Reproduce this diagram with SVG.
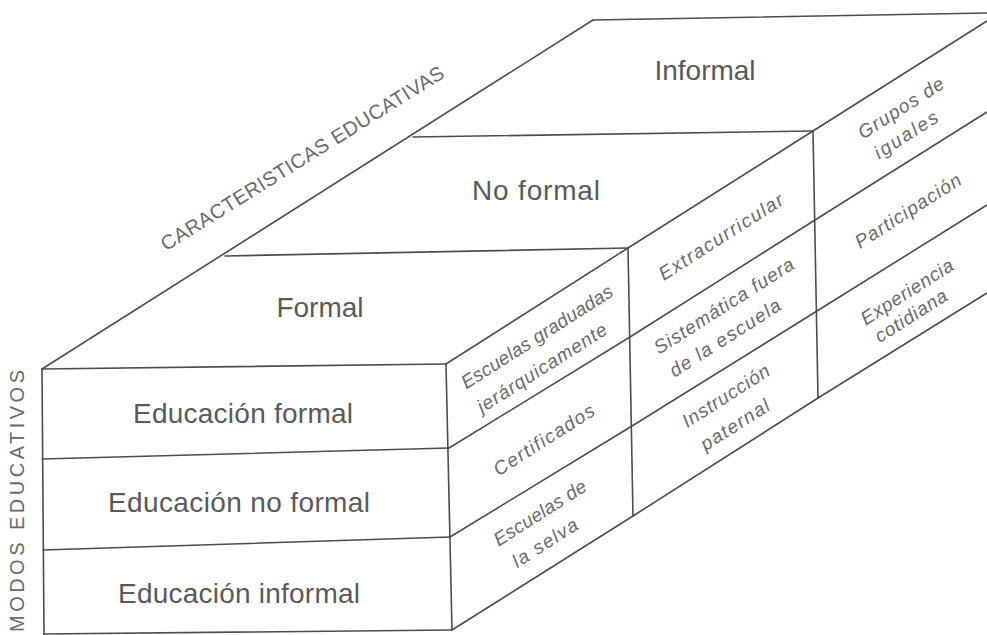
<svg xmlns="http://www.w3.org/2000/svg" width="987" height="635" viewBox="0 0 987 635">
<style>
.ln{fill:none;stroke:#4d4d4d;stroke-width:1.6;stroke-linecap:round;stroke-linejoin:round}
.big{font-family:"Liberation Sans",Arial,sans-serif;font-size:28px;fill:#5a5a5a;text-anchor:middle}
.side{font-family:"Liberation Sans",Arial,sans-serif;font-size:19px;fill:#6a6a6a;text-anchor:middle;font-style:italic}
.axis{font-family:"Liberation Sans",Arial,sans-serif;font-size:20px;fill:#6a6a6a}
</style>
<rect width="987" height="635" fill="#ffffff"/>
<g id="connectors">
<path class="ln" d="M42,369 L593,20"/>
<path class="ln" d="M593,20 L987,13"/>
<path class="ln" d="M413,137 L813,131"/>
<path class="ln" d="M225,256 L628,248"/>
<path class="ln" d="M42,369 L446,364"/>
<path class="ln" d="M42,459 L449,448"/>
<path class="ln" d="M43,550 L450,537"/>
<path class="ln" d="M44,634 L452,630"/>
<path class="ln" d="M42,369 L44,635"/>
<path class="ln" d="M446,364 L452,630"/>
<path class="ln" d="M628,248 L633,516"/>
<path class="ln" d="M813,131 L818,398"/>
<path class="ln" d="M446,364 L628,248 L813,131 L987,21"/>
<path class="ln" d="M449,448 L630,337 L815,220 L987,112"/>
<path class="ln" d="M450,537 L632,426 L817,311 L987,205"/>
<path class="ln" d="M452,630 L633,516 L818,398 L987,293"/>
</g>
<g id="axis-caracteristicas">
<text class="axis" transform="translate(306,164) rotate(-32)" text-anchor="middle" textLength="330" lengthAdjust="spacing">CARACTERISTICAS EDUCATIVAS</text>
</g>
<g id="axis-modos">
<text class="axis" font-size="19" transform="translate(24,632) rotate(-90)" textLength="262" lengthAdjust="spacing">MODOS EDUCATIVOS</text>
</g>
<g id="top-formal"><text class="big" x="320" y="317">Formal</text></g>
<g id="top-no-formal"><text class="big" x="536" y="200" textLength="128" lengthAdjust="spacing">No formal</text></g>
<g id="top-informal"><text class="big" x="705" y="80">Informal</text></g>
<g id="row-educacion-formal"><text class="big" x="243" y="423" textLength="220" lengthAdjust="spacing">Educación formal</text></g>
<g id="row-educacion-no-formal"><text class="big" x="239" y="512" textLength="262" lengthAdjust="spacing">Educación no formal</text></g>
<g id="row-educacion-informal"><text class="big" x="239" y="603" textLength="242" lengthAdjust="spacing">Educación informal</text></g>
<g id="cell-formal-formal">
<text class="side" transform="translate(537,337) rotate(-32.5)" dy="0.33em" textLength="176" lengthAdjust="spacing">Escuelas graduadas</text>
<text class="side" transform="translate(542,368) rotate(-32.5)" dy="0.33em" textLength="150" lengthAdjust="spacing">jerárquicamente</text>
</g>
<g id="cell-formal-noformal">
<text class="side" transform="translate(544,440) rotate(-32.5)" dy="0.33em" textLength="116" lengthAdjust="spacing">Certificados</text>
</g>
<g id="cell-formal-informal">
<text class="side" transform="translate(540,513) rotate(-32.5)" dy="0.33em" textLength="106" lengthAdjust="spacing">Escuelas de</text>
<text class="side" transform="translate(545,543) rotate(-32.5)" dy="0.33em" textLength="74" lengthAdjust="spacing">la selva</text>
</g>
<g id="cell-noformal-formal">
<text class="side" transform="translate(721,237) rotate(-32.5)" dy="0.33em" textLength="144" lengthAdjust="spacing">Extracurricular</text>
</g>
<g id="cell-noformal-noformal">
<text class="side" transform="translate(724,306) rotate(-32.5)" dy="0.33em" textLength="162" lengthAdjust="spacing">Sistemática fuera</text>
<text class="side" transform="translate(725,338) rotate(-32.5)" dy="0.33em" textLength="128" lengthAdjust="spacing">de la escuela</text>
</g>
<g id="cell-noformal-informal">
<text class="side" transform="translate(726,396) rotate(-32.5)" dy="0.33em" textLength="100" lengthAdjust="spacing">Instrucción</text>
<text class="side" transform="translate(735,425) rotate(-32.5)" dy="0.33em" textLength="78" lengthAdjust="spacing">paternal</text>
</g>
<g id="cell-informal-formal">
<text class="side" transform="translate(901,108) rotate(-32.5)" dy="0.33em" textLength="98" lengthAdjust="spacing">Grupos de</text>
<text class="side" transform="translate(906,135) rotate(-32.5)" dy="0.33em" textLength="72" lengthAdjust="spacing">iguales</text>
</g>
<g id="cell-informal-noformal">
<text class="side" transform="translate(908,211) rotate(-32.5)" dy="0.33em" textLength="122" lengthAdjust="spacing">Participación</text>
</g>
<g id="cell-informal-informal">
<text class="side" transform="translate(907,292) rotate(-32.5)" dy="0.33em" textLength="106" lengthAdjust="spacing">Experiencia</text>
<text class="side" transform="translate(911,316) rotate(-32.5)" dy="0.33em" textLength="82" lengthAdjust="spacing">cotidiana</text>
</g>
</svg>
